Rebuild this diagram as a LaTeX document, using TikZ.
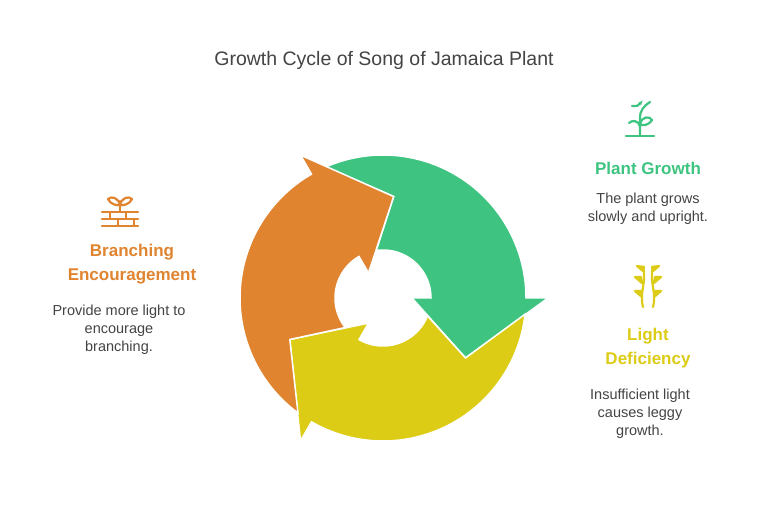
\documentclass[tikz,border=0pt]{standalone}
\usepackage{fontspec}
\setmainfont{Liberation Sans}
\usetikzlibrary{arrows.meta}
\definecolor{cgreen}{RGB}{62,196,128}
\definecolor{cyellow}{RGB}{221,204,22}
\definecolor{corange}{RGB}{224,132,48}
\definecolor{ctext}{RGB}{68,68,68}
\tikzset{%
  head/.style={font=\fontsize{17}{24}\selectfont\bfseries, align=center},
  desc/.style={font=\fontsize{14.5}{18}\selectfont, text=ctext, align=center},
  icon/.style={line width=2.2pt, line cap=round, line join=round}
}
\newcommand{\cyclearrow}[2]{%
  \filldraw[fill=#2, draw=white, line width=1.5pt]
    (#1+84:102) -- (#1+113.5:143) arc[start angle=#1+113.5, end angle=#1, radius=143]
    -- (#1:165) -- (#1-36:102) -- (#1:29) -- (#1:48)
    arc[start angle=#1, end angle=#1+98, radius=48] -- cycle;}

\begin{document}
\begin{tikzpicture}[x=1pt,y=1pt]
\useasboundingbox[fill=white] (0,0) rectangle (768,522);
\node[font=\fontsize{19.5}{22}\selectfont, text=ctext] (title) at (384,462) {Growth Cycle of Song of Jamaica Plant};
% cycle
\begin{scope}[shift={(383,224)}]
\cyclearrow{0}{cgreen}
\cyclearrow{240}{cyellow}
\cyclearrow{120}{corange}
\end{scope}
% plant growth
\node[head, text=cgreen] (growth) at (648,354) {Plant Growth};
\node[desc] (growthtxt) at (648,313) {The plant grows\\slowly and upright.};
\begin{scope}[shift={(640,402)}, icon, draw=cgreen]
\draw (-14,-16) -- (14,-16);
\draw (0,-16) -- (0,2) .. controls (0,10) and (4,14) .. (10,18);
\draw[-{Latex[length=5pt]}] (-8,14) .. controls (-2,14) .. (3,20);
\draw (0,-4) .. controls (2,4) and (10,4) .. (12,0) .. controls (8,-6) and (2,-6) .. (0,-4);
\draw (0,-6) .. controls (-2,0) and (-8,0) .. (-11,-3);
\end{scope}
% light deficiency
\node[head, text=cyellow] (light) at (648,174) {Light\\Deficiency};
\node[desc] (lighttxt) at (640,108) {Insufficient light\\causes leggy\\growth.};
\begin{scope}[shift={(648,235)}, icon, draw=cyellow, fill=cyellow]
\draw (-5,-20) .. controls (-9,-5) and (-1,5) .. (-5,20);
\draw (5,-20) .. controls (9,-5) and (1,5) .. (5,20);
\foreach \yy in {-10,4} {
  \filldraw (-6,\yy) -- (-13,\yy+6) -- (-7,\yy+6) -- cycle;
  \filldraw (6,\yy) -- (13,\yy+6) -- (7,\yy+6) -- cycle;
}
\filldraw (-5,16) -- (-11,21) -- (-4,20) -- cycle;
\filldraw (5,16) -- (11,21) -- (4,20) -- cycle;
\end{scope}
% branching
\node[head, text=corange] (branch) at (132,258) {Branching\\Encouragement};
\node[desc] (branchtxt) at (119,192) {Provide more light to\\encourage\\branching.};
\begin{scope}[shift={(120,317)}, icon, draw=corange]
\draw (0,4) -- (0,-6);
\draw (0,0) .. controls (-2,8) and (-9,9) .. (-12,6) .. controls (-10,1) and (-3,-1) .. (0,0);
\draw (0,0) .. controls (2,8) and (9,9) .. (12,6) .. controls (10,1) and (3,-1) .. (0,0);
\draw (-18,-7) -- (18,-7) (-18,-14) -- (18,-14) (-18,-21) -- (18,-21);
\foreach \xx in {-10,6} \draw (\xx,-7) -- (\xx,-14);
\foreach \xx in {-2,14} \draw (\xx,-14) -- (\xx,-21);
\end{scope}
\end{tikzpicture}
\end{document}
